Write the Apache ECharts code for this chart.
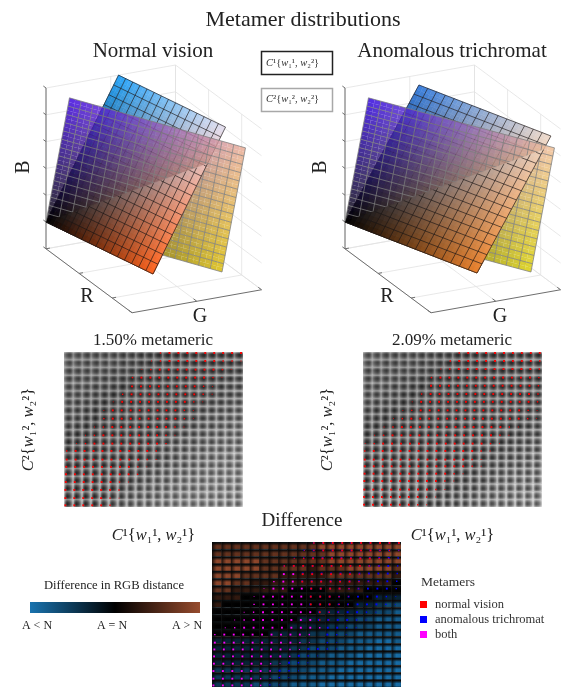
<!DOCTYPE html>
<html><head><meta charset="utf-8">
<style>html,body{margin:0;padding:0;background:#fff}#c{width:565px;height:687px}</style>
<script src="https://cdn.jsdelivr.net/npm/echarts@6/dist/echarts.min.js"></script>
</head><body><div id="c"></div>
<script>
// ---------- 3D panels: plane corner positions in RGB space (R, G, B) ----------
const bTicks = [-0.2, 0, 0.2, 0.4, 0.6, 0.8, 1];
const rTicks = [0, 0.5, 1];
const gTicks = [0, 0.5, 1];
const planeN1 = { u: [1.45, 0.085, 0.13], v: [0, 0.56, 1.0] };
const planeN2 = { u: [1.663, 0.509, 0.15], v: [0.12, 0.12, 0.95] };
const planeA1 = { u: [1.507, 0.249, 0.13], v: [0.166, 0.486, 1.0] };
const planeA2 = { u: [1.692, 0.571, 0.15], v: [0.12, 0.12, 0.95] };
// displayed colours at the plane corners: u, v, u+v
const coloursN1 = [[255, 100, 30], [40, 165, 250], [230, 225, 240]];
const coloursN2 = [[217, 186, 0], [55, 0, 224], [236, 174, 149]];
const coloursA1 = [[235, 130, 45], [60, 130, 225], [240, 220, 205]];
const coloursA2 = [[217, 205, 0], [43, 0, 224], [243, 192, 149]];
const crossSlopeN = 0.75;
const crossSlopeA = 0.9;
const meshCells = 15;

// ---------- cell tables (row top to bottom), digit = darkness level of cell ----------
const coreN = ["66555544332222222222","66555544322222222223","55555443222222222233","55554432222222222334","55544322222222223344","55443222222222233445","54432222222222334455","44322222222223344556","44322222222223345566","43222222222233455667","32222222222334556677","22222222223345566777","22222222233455667788","22222222233456677888","22222222334566778888","22222222345667788899","22222223456678889999","22222234566788899999","22222345667889999999","22223456778899999999"];
const coreA = ["66555544332222222222","66555544322222222222","55555443222222222222","55554432222222222222","55544322222222222222","55443222222222222222","54432222222222222222","43322222222222222223","43222222222222222223","32222222222222222234","22222222222222222344","22222222222222223445","22222222222222234455","22222222222222344556","22222222222223445566","22222222222234456667","22222222222344566777","22222222223445667778","22222222234456677888","22222222344566778889"];
const vBandByRowN = [.42,.42,.44,.46,.48,.5,.52,.54,.56,.58,.6,.62,.64,.66,.68,.7,.72,.74,.76,.78];
const hBandByColN = [.5,.5,.5,.5,.5,.5,.5,.52,.54,.54,.56,.58,.58,.6,.6,.62,.62,.64,.64,.66];
const vBandByRowA = [.44,.44,.46,.48,.5,.52,.54,.56,.58,.6,.62,.64,.66,.68,.7,.72,.74,.76,.78,.8];
const hBandByColA = [.5,.5,.5,.5,.5,.5,.52,.54,.54,.56,.58,.58,.6,.6,.62,.62,.64,.64,.66,.66];

// dots: [first column, size digit per column] for rows top to bottom
const dotsN = [[10,"2333333333"],[9,"12333333221"],[8,"12333333321"],[7,"23333333321"],[7,"3333333321"],[6,"23333333321"],[5,"13333333321"],[4,"13333333321"],[4,"23333333321"],[3,"12333333321"],[2,"12333333321"],[1,"12333333332"],[0,"23333333332"],[0,"33333333321"],[0,"3333333321"],[0,"333333332"],[0,"33333321"],[0,"3333332"],[0,"3333321"],[0,"333332"]];
const dotsA = [[10,"2333333333"],[9,"23333333332"],[8,"123333333332"],[7,"2333333333332"],[7,"3333333333332"],[6,"23333333333332"],[5,"133333333333332"],[4,"1233333333333321"],[3,"12333333333333321"],[2,"1233333333333321"],[1,"1233333333333321"],[0,"1233333333333321"],[0,"233333333333321"],[0,"33333333333321"],[0,"33333333333321"],[0,"333333333321"],[0,"33333333321"],[0,"3333333321"],[0,"333333321"],[0,"33333321"]];
const dotFracXN = [.78,.78,.7,.65,.6,.55,.5,.45,.45,.4,.4,.4,.3,.3,.25,.22,.2,.15,.15,.15];
const dotFracYN = [.13,.16,.27,.3,.43,.46,.43,.53,.6,.68,.75,.82,.77,.88,.82,.78,.78,.8,.85,.78];
const dotFracXA = [.75,.75,.7,.65,.6,.55,.5,.45,.4,.35,.3,.25,.2,.2,.2,.18,.15,.15,.12,.12];
const dotFracYA = [.13,.16,.2,.3,.35,.42,.43,.53,.6,.68,.75,.82,.77,.88,.75,.7,.65,.75,.7,.7];
const bothUpToCol = [-1,-1,-1,-1,8,8,9,9,9,10,10,11,11,11,9,8,7,6,6,5];

// difference table: 5 = equal, toward 0 = A<N (blue), toward 9 = A>N (brown)
const diffLevels = ["77777777777888888888","77777777777788888888","88888777777788888888","88888777776777888887","88877776666677777776","88776666666666666665","77666666555566665555","66655555555555555444","65555555555555544322","55555555555444433221","55555555544443322111","55555555444433222111","55555544443322211111","44444444433222111001","44444444332221110000","44444443322211100000","44444433222111000000","33333332221110000000","33333322211100000000","33332222111000000000"];
const colourLow = [25, 115, 175], colourHigh = [150, 75, 45];
const diffStrength = [1, .85, .68, .5, .32, 0, .35, .7, 1, 1];

const serif = "Liberation Serif";
const mathN = "{i|C}¹{{i|w}₁¹, {i|w}₂¹}";
const mathY = "{i|C}²{{i|w}₁², {i|w}₂²}";
const legendText1 = "{i|C}¹{{i|w}₁¹, {i|w}₂²}";
const legendText2 = "{i|C}²{{i|w}₁², {i|w}₂²}";

// ---------- view projection from RGB to chart plane ----------
function project(p) { return [129.5 * p[1] + 66.2 * p[0], 23 * p[1] - 49.2 * p[0] + 134 * p[2]]; }
const rgbStr = (c, a) => a === undefined ? `rgb(${c.map(Math.round).join(",")})` : `rgba(${c.map(Math.round).join(",")},${a})`;
function planePoint(pl, s, t) { return [0, 1, 2].map(k => pl.u[k] * s + pl.v[k] * t); }
function planeColour(cols, s, t) {
  return [0, 1, 2].map(k => cols[0][k] * s * (1 - t) + cols[1][k] * (1 - s) * t + cols[2][k] * s * t);
}
function clipBelow(pts, k) { // keep t <= k*s
  const f = p => k * p[0] - p[1], out = [];
  pts.forEach((a, i) => {
    const b = pts[(i + 1) % pts.length], fa = f(a), fb = f(b);
    if (fa >= 0) out.push(a);
    if ((fa >= 0) !== (fb >= 0)) { const m = fa / (fa - fb); out.push([a[0] + (b[0] - a[0]) * m, a[1] + (b[1] - a[1]) * m]); }
  });
  return out;
}

function wireData() {
  const d = [], g = 0, a = 1, R = 1.3, G = 1, Bmin = -0.2, Bmax = 1;
  bTicks.forEach(b => { d.push([0,0,b, 0,G,b, g]); d.push([0,G,b, R,G,b, g]); });
  gTicks.forEach(y => { d.push([0,y,Bmin, 0,y,Bmax, g]); d.push([0,y,Bmin, R,y,Bmin, g]); });
  rTicks.forEach(x => { d.push([x,G,Bmin, x,G,Bmax, g]); d.push([x,0,Bmin, x,G,Bmin, g]); });
  d.push([0,0,Bmin, 0,0,Bmax, a]); d.push([0,0,Bmin, R,0,Bmin, a]); d.push([R,0,Bmin, R,G,Bmin, a]);
  bTicks.forEach(b => d.push([0,0,b, -0.04,0,b, a]));
  rTicks.forEach(x => d.push([x,0,Bmin, x,0.03,Bmin, a]));
  gTicks.forEach(y => d.push([R,y,Bmin, R-0.05,y,Bmin, a]));
  return d;
}
function wireSeries(gi) {
  return { type: 'custom', xAxisIndex: gi, yAxisIndex: gi, silent: true, clip: false, data: wireData(),
    encode: { x: 0, y: 1 },
    renderItem(_, api) {
      const v = [0,1,2,3,4,5,6].map(i => api.value(i));
      const p = api.coord(project(v.slice(0,3))), q = api.coord(project(v.slice(3,6)));
      return { type: 'line', shape: { x1: p[0], y1: p[1], x2: q[0], y2: q[1] },
        style: { stroke: v[6] ? '#6e6e6e' : '#e2e2e2', lineWidth: v[6] ? 1 : 0.8, fill: null } };
    } };
}
function fillSeries(gi, pl, cols, alpha, slope) {
  const d = [], sub = meshCells * 2;
  for (let i = 0; i < sub; i++) for (let j = 0; j < sub; j++) d.push([i, j]);
  return { type: 'custom', xAxisIndex: gi, yAxisIndex: gi, silent: true, clip: false, data: d,
    renderItem(_, api) {
      const i = api.value(0), j = api.value(1), n = sub, e = alpha === undefined ? 0 : 0;
      let pts = [[i/n,j/n],[(i+1)/n+e,j/n],[(i+1)/n+e,(j+1)/n+e],[i/n,(j+1)/n+e]];
      if (slope !== undefined) pts = clipBelow(pts, slope);
      if (pts.length < 3) return null;
      const c = rgbStr(planeColour(cols, (i+.5)/n, (j+.5)/n), alpha);
      return { type: 'polygon', shape: { points: pts.map(p => api.coord(project(planePoint(pl, p[0], p[1])))) },
        style: { fill: c, stroke: alpha === undefined ? c : null, lineWidth: 0.5 } };
    } };
}
function lineSeries(gi, pl, stroke, slope) {
  const d = [];
  for (let i = 0; i <= meshCells; i++) { d.push([0, i]); d.push([1, i]); }
  return { type: 'custom', xAxisIndex: gi, yAxisIndex: gi, silent: true, clip: false, data: d,
    renderItem(_, api) {
      const dir = api.value(0), f = api.value(1) / meshCells;
      let a, b;
      if (dir === 0) { a = [f, 0]; b = [f, slope === undefined ? 1 : Math.min(1, slope * f)]; }
      else { a = [slope === undefined ? 0 : Math.min(1, f / slope), f]; b = [1, f]; if (a[0] >= 1) return null; }
      const p = api.coord(project(planePoint(pl, a[0], a[1]))), q = api.coord(project(planePoint(pl, b[0], b[1])));
      return { type: 'line', shape: { x1: p[0], y1: p[1], x2: q[0], y2: q[1] }, style: { stroke, lineWidth: 0.8, fill: null } };
    } };
}
function planeLayers(gi, p1, c1, p2, c2, slope) {
  const black = 'rgba(25,20,20,0.8)', grey = 'rgba(125,125,125,0.95)';
  return [wireSeries(gi),
    fillSeries(gi, p1, c1), lineSeries(gi, p1, black),
    fillSeries(gi, p2, c2, 0.82), lineSeries(gi, p2, grey),
    fillSeries(gi, p1, c1, undefined, slope), lineSeries(gi, p1, black, slope)];
}

// ---------- heat panels ----------
function heatSeries(gi, core, vBand, hBand, fx, fy) {
  const d = [];
  core.forEach((row, r) => [...row].forEach((ch, c) => d.push([c, r, +ch])));
  return { type: 'custom', xAxisIndex: gi, yAxisIndex: gi, silent: true, clip: true, data: d, encode: { x: 0, y: 1 },
    renderItem(_, api) {
      const c = api.value(0), r = api.value(1), lv = api.value(2);
      const p = api.coord([c, r]), s = api.size([1, 1]);
      const shape = { x: p[0], y: p[1], width: s[0] + .3, height: s[1] + .3 };
      const g = 22 + lv * 7, ax = vBand[r], ay = hBand[c];
      const mx = 0.5 + (fx[r] - 0.45) * 0.4, my = 0.5 + (fy[r] - 0.5) * 0.4;
      const wh = a => `rgba(255,255,255,${a})`;
      const stops = (m, a) => [
        { offset: 0, color: wh(a) }, { offset: m * .35, color: wh(a * .42) }, { offset: m * .7, color: wh(a * .1) }, { offset: m, color: wh(0) },
        { offset: m + (1 - m) * .3, color: wh(a * .1) }, { offset: m + (1 - m) * .65, color: wh(a * .42) }, { offset: 1, color: wh(a) }];
      return { type: 'group', children: [
        { type: 'rect', shape, style: { fill: rgbStr([g, g, g]) } },
        { type: 'rect', shape, style: { fill: { type: 'linear', x: 0, y: 0, x2: 1, y2: 0, colorStops: stops(mx, ax) } } },
        { type: 'rect', shape, style: { fill: { type: 'linear', x: 0, y: 0, x2: 0, y2: 1, colorStops: stops(my, ay) } } }
      ] };
    } };
}
function dotData(table, fx, fy, keep) {
  const out = [];
  table.forEach(([start, sizes], r) => [...sizes].forEach((ch, k) => {
    const c = start + k;
    if (!keep || keep(r, c)) out.push([c + fx[r], r + fy[r], +ch]);
  }));
  return out;
}
function dotSeries(name, gi, data, colour) {
  return { name, type: 'scatter', xAxisIndex: gi, yAxisIndex: gi, silent: true, data, symbol: 'rect',
    symbolSize: v => [0, 0.9, 1.4, 1.9][v[2]], itemStyle: { color: colour, opacity: 1 }, z: 5, clip: false };
}

// ---------- difference panel ----------
function diffSeries(gi) {
  const d = [];
  diffLevels.forEach((row, r) => [...row].forEach((ch, c) => d.push([c, r, +ch])));
  return { type: 'custom', xAxisIndex: gi, yAxisIndex: gi, silent: true, clip: true, data: d, encode: { x: 0, y: 1 },
    renderItem(_, api) {
      const c = api.value(0), r = api.value(1), lv = api.value(2);
      const p = api.coord([c, r]), s = api.size([1, 1]);
      const shape = { x: p[0], y: p[1], width: s[0] + .3, height: s[1] + .3 };
      const base = lv >= 5 ? colourHigh : colourLow;
      const col = rgbStr(base.map(x => x * diffStrength[lv] * 0.95));
      const tint = lv >= 5 ? '#0c1c24' : '#140e0c';
      return { type: 'group', children: [
        { type: 'rect', shape, style: { fill: { type: 'linear', x: 0, y: 0, x2: 0, y2: 1, colorStops: [
          { offset: 0, color: tint }, { offset: .12, color: '#0a0a0a' }, { offset: .5, color: col }, { offset: .85, color: col }, { offset: 1, color: '#121212' }] } } },
        { type: 'rect', shape, style: { fill: { type: 'linear', x: 0, y: 0, x2: 1, y2: 0, colorStops: [
          { offset: 0, color: 'rgba(5,5,5,0.85)' }, { offset: .3, color: 'rgba(5,5,5,0.3)' }, { offset: .5, color: 'rgba(5,5,5,0)' }, { offset: .9, color: 'rgba(5,5,5,0.05)' }, { offset: 1, color: 'rgba(5,5,5,0.4)' }] } } }
      ] };
    } };
}

// ---------- layout ----------
const p3W = 285, p3H = 330;
const grids = [
  { left: 0, top: 0, width: p3W, height: p3H },
  { left: 299, top: 0, width: p3W - 19, height: p3H },
  { left: 64, top: 352, width: 179, height: 155 },
  { left: 363, top: 352, width: 179, height: 155 },
  { left: 212, top: 542, width: 189, height: 145 }
];
const richMath = size => ({ i: { fontFamily: serif, fontStyle: 'italic', fontSize: size, color: '#222' } });
const hiddenPart = { axisLine: { show: false }, axisTick: { show: false }, axisLabel: { show: false }, splitLine: { show: false } };
const axisName = (name, gap) => ({ name, nameLocation: 'middle', nameGap: gap, nameTextStyle: { fontFamily: serif, fontSize: 16.5, color: '#222', rich: richMath(16.5) } });
const xAxes = [
  { type: 'value', gridIndex: 0, min: -46, max: 239, show: false },
  { type: 'value', gridIndex: 1, min: -46, max: 220, show: false },
  { type: 'value', gridIndex: 2, min: 0, max: 20, ...hiddenPart, ...axisName(mathN, 20) },
  { type: 'value', gridIndex: 3, min: 0, max: 20, ...hiddenPart, ...axisName(mathN, 20) },
  { type: 'value', gridIndex: 4, min: 0, max: 20, show: false }
];
const yAxes = [
  { type: 'value', gridIndex: 0, min: -108, max: 222, show: false },
  { type: 'value', gridIndex: 1, min: -108, max: 222, show: false },
  { type: 'value', gridIndex: 2, min: 0, max: 20, inverse: true, ...hiddenPart, ...axisName(mathY, 27) },
  { type: 'value', gridIndex: 3, min: 0, max: 20, inverse: true, ...hiddenPart, ...axisName(mathY, 27) },
  { type: 'value', gridIndex: 4, min: 0, max: 20, inverse: true, show: false }
];
const heading = (text, x, y, size) => ({ text, left: x, top: y, textAlign: 'center', padding: 0, textStyle: { fontFamily: serif, fontWeight: 'normal', fontSize: size, color: '#222' } });
const titles = [
  heading("Metamer distributions", 303, 9, 22),
  heading("Normal vision", 153, 41, 21),
  heading("Anomalous trichromat", 452, 41, 21),
  heading("1.50% metameric", 153, 332, 17),
  heading("2.09% metameric", 452, 332, 17),
  heading("Difference", 302, 512, 19)
];
const label = (text, x, y, size, extra) => ({ type: 'text', x, y, ...(extra || {}), style: { text, fontFamily: serif, fontSize: size, fill: '#222', textAlign: 'center', textVerticalAlign: 'middle' } });
const rotated = { rotation: Math.PI / 2 };
const graphics = [
  { type: 'rect', shape: { x: 261.5, y: 51.5, width: 71, height: 23 }, style: { fill: '#fff', stroke: '#222', lineWidth: 1.5 } },
  { type: 'rect', shape: { x: 261.5, y: 88.5, width: 71, height: 23 }, style: { fill: '#fff', stroke: '#a8a8a8', lineWidth: 1.5 } },
  { type: 'text', x: 266, y: 63, style: { text: legendText1, fontFamily: serif, fontSize: 10.5, fill: '#333', textVerticalAlign: 'middle', rich: richMath(10.5) } },
  { type: 'text', x: 266, y: 99, style: { text: legendText2, fontFamily: serif, fontSize: 10.5, fill: '#333', textVerticalAlign: 'middle', rich: richMath(10.5) } },
  label("B", 24, 167, 20, rotated), label("B", 321, 167, 20, rotated),
  label("R", 87, 297, 20), label("R", 387, 297, 20),
  label("G", 200, 317, 20), label("G", 500, 317, 20),
  label("Difference in RGB distance", 114, 586, 12.6),
  { type: 'rect', shape: { x: 30, y: 602, width: 170, height: 11 }, style: { fill: { type: 'linear', x: 0, y: 0, x2: 1, y2: 0, colorStops: [
    { offset: 0, color: rgbStr(colourLow) }, { offset: .5, color: '#000' }, { offset: 1, color: rgbStr(colourHigh) }] } } },
  label("A < N", 37, 626, 12), label("A = N", 112, 626, 12), label("A > N", 187, 626, 12),
  { type: 'text', x: 421, y: 582, style: { text: "Metamers", fontFamily: serif, fontSize: 13.5, fill: '#333', textVerticalAlign: 'middle' } }
];

const diffBoth = dotData(dotsN, dotFracXN, dotFracYN, (r, c) => c <= bothUpToCol[r]);
const diffNormal = dotData(dotsN, dotFracXN, dotFracYN, (r, c) => c > bothUpToCol[r]);
const diffAnom = dotData(dotsA, dotFracXA, dotFracYA, (r, c) => c > bothUpToCol[r]);

const chart = echarts.init(document.getElementById('c'), null, { renderer: 'canvas' });
chart.setOption({
  animation: false, backgroundColor: '#fff', title: titles, grid: grids, xAxis: xAxes, yAxis: yAxes, graphic: graphics,
  legend: { data: ['normal vision', 'anomalous trichromat', 'both'], orient: 'vertical', left: 420, top: 598, itemWidth: 7, itemHeight: 7, itemGap: 2, icon: 'rect', selectedMode: false,
    padding: 0, textStyle: { fontFamily: serif, fontSize: 12.5, color: '#333', padding: [0, 0, 0, 3] } },
  series: [
    ...planeLayers(0, planeN1, coloursN1, planeN2, coloursN2, crossSlopeN),
    ...planeLayers(1, planeA1, coloursA1, planeA2, coloursA2, crossSlopeA),
    heatSeries(2, coreN, vBandByRowN, hBandByColN, dotFracXN, dotFracYN),
    dotSeries('N dots', 2, dotData(dotsN, dotFracXN, dotFracYN), '#ff0000'),
    heatSeries(3, coreA, vBandByRowA, hBandByColA, dotFracXA, dotFracYA),
    dotSeries('A dots', 3, dotData(dotsA, dotFracXA, dotFracYA), '#ff0000'),
    diffSeries(4),
    dotSeries('anomalous trichromat', 4, diffAnom, '#0000ff'),
    dotSeries('normal vision', 4, diffNormal, '#ff0000'),
    dotSeries('both', 4, diffBoth, '#ff00ff')
  ]
});
</script></body></html>
